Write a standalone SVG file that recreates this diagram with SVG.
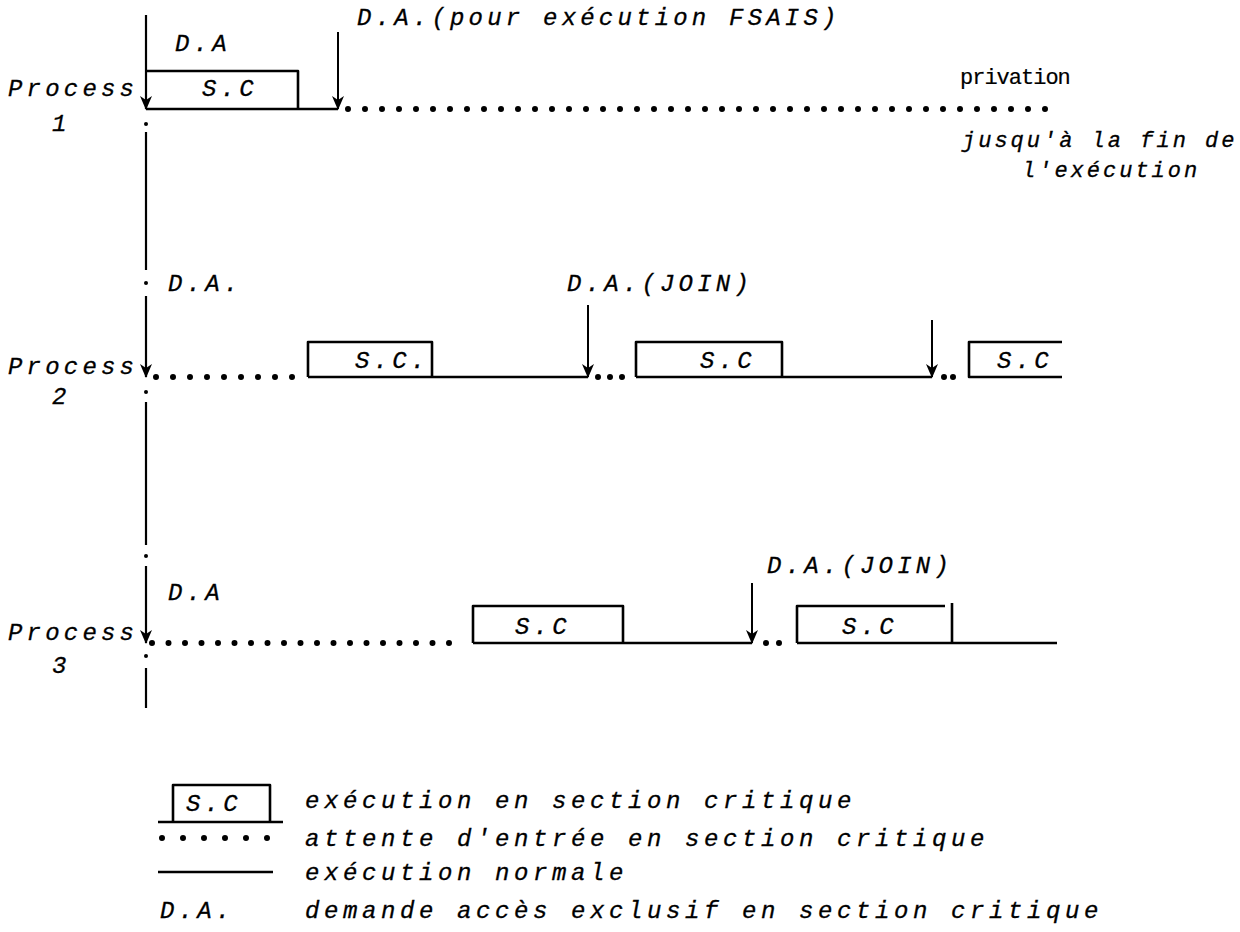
<svg xmlns="http://www.w3.org/2000/svg" width="1240" height="932" viewBox="0 0 1240 932">
<style>
.t{font-family:"Liberation Mono","DejaVu Sans Mono",monospace;font-style:italic;font-size:24px;letter-spacing:4.2px;fill:#000;stroke:#000;stroke-width:0.3}
.s{font-size:22px;letter-spacing:3px}
.lg{letter-spacing:4.6px}
.u{font-family:"Liberation Mono","DejaVu Sans Mono",monospace;font-size:22px;letter-spacing:-1px;fill:#000;stroke:#000;stroke-width:0.2}
.ln{stroke:#000;stroke-width:2.6;fill:none;stroke-linejoin:round}
.ax{stroke:#000;stroke-width:2.2;fill:none}
.ar{stroke:#000;stroke-width:2;fill:none}
.dots{stroke:#000;stroke-width:6;stroke-linecap:round;stroke-dasharray:0 17;fill:none}
</style>
<defs>
<marker id="ah" markerUnits="userSpaceOnUse" markerWidth="14" markerHeight="12" refX="13" refY="6" orient="auto" viewBox="0 0 14 12">
<path d="M0,0 L14,6 L0,12 L4,6 z" fill="#000"/>
</marker>
</defs>
<rect width="1240" height="932" fill="#fff"/>

<g id="axis">
<line class="ax" x1="146" y1="15" x2="146" y2="109" marker-end="url(#ah)"/>
<circle cx="146" cy="124" r="2"/>
<line class="ax" x1="146" y1="132" x2="146" y2="270"/>
<circle cx="146" cy="283" r="2"/>
<line class="ax" x1="146" y1="296" x2="146" y2="377" marker-end="url(#ah)"/>
<circle cx="146" cy="392" r="2"/>
<line class="ax" x1="146" y1="402" x2="146" y2="545"/>
<circle cx="146" cy="556" r="2"/>
<line class="ax" x1="146" y1="566" x2="146" y2="643" marker-end="url(#ah)"/>
<circle cx="146" cy="656" r="2"/>
<line class="ax" x1="146" y1="668" x2="146" y2="708"/>
</g>

<g id="process1">
<text class="t" x="8" y="96">Process</text>
<text class="t" x="52" y="131">1</text>
<text class="t" x="175" y="51">D.A</text>
<path class="ln" d="M146,71 H298 V109 H146 M298,109 H338"/>
<text class="t" x="202" y="96">S.C</text>
<line class="ar" x1="338" y1="32" x2="338" y2="109" marker-end="url(#ah)"/>
<text class="t" x="357" y="25">D.A.(pour exécution FSAIS)</text>
<line class="dots" x1="348" y1="109" x2="1062" y2="109"/>
<text class="u" x="960" y="84">privation</text>
<text class="t s" x="962" y="147">jusqu'à la fin de</text>
<text class="t s" x="1022" y="177">l'exécution</text>
</g>

<g id="process2">
<text class="t" x="8" y="374">Process</text>
<text class="t" x="52" y="404">2</text>
<text class="t" x="168" y="291">D.A.</text>
<line class="dots" x1="156" y1="377" x2="297" y2="377"/>
<path class="ln" d="M308,377 V342 H432 V377 M308,377 H588"/>
<text class="t" x="355" y="368">S.C.</text>
<line class="ar" x1="588" y1="305" x2="588" y2="377" marker-end="url(#ah)"/>
<text class="t" x="567" y="291">D.A.(JOIN)</text>
<line class="dots" x1="598" y1="377" x2="630" y2="377" style="stroke-dasharray:0 12"/>
<path class="ln" d="M636,377 V342 H782 V377 M636,377 H932"/>
<text class="t" x="700" y="368">S.C</text>
<line class="ar" x1="932" y1="320" x2="932" y2="377" marker-end="url(#ah)"/>
<line class="dots" x1="944" y1="377" x2="962" y2="377" style="stroke-dasharray:0 9"/>
<path class="ln" d="M1062,342 H969 V377 H1062"/>
<text class="t" x="997" y="368">S.C</text>
</g>

<g id="process3">
<text class="t" x="8" y="640">Process</text>
<text class="t" x="52" y="673">3</text>
<text class="t" x="168" y="600">D.A</text>
<line class="dots" x1="152" y1="643" x2="465" y2="643" style="stroke-dasharray:0 16.5"/>
<path class="ln" d="M473,643 V606 H623 V643 M473,643 H752"/>
<text class="t" x="515" y="634">S.C</text>
<line class="ar" x1="752" y1="583" x2="752" y2="643" marker-end="url(#ah)"/>
<text class="t" x="767" y="573">D.A.(JOIN)</text>
<line class="dots" x1="766" y1="643" x2="792" y2="643" style="stroke-dasharray:0 13"/>
<path class="ln" d="M797,643 V606 H945 M952,603 V643 M797,643 H1057"/>
<text class="t" x="842" y="634">S.C</text>
</g>

<g id="legend">
<path class="ln" d="M173,822 V785 H270 V822 M158,822 H283"/>
<text class="t" x="186" y="811">S.C</text>
<text class="t lg" x="305" y="808">exécution en section critique</text>
<line class="dots" x1="162" y1="838" x2="268" y2="838" style="stroke-dasharray:0 21"/>
<text class="t lg" x="305" y="846">attente d'entrée en section critique</text>
<line class="ln" x1="158" y1="872" x2="273" y2="872"/>
<text class="t lg" x="305" y="880">exécution normale</text>
<text class="t" x="160" y="918">D.A.</text>
<text class="t lg" x="305" y="918">demande accès exclusif en section critique</text>
</g>
</svg>
